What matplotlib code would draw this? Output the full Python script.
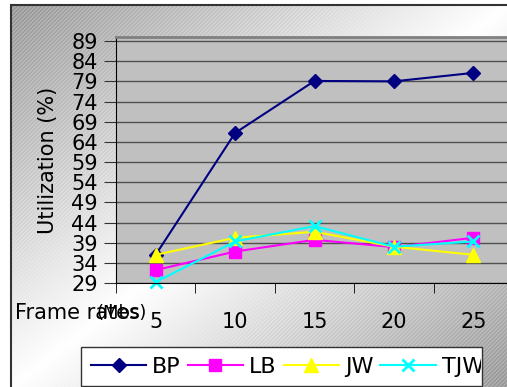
import matplotlib
matplotlib.use("Agg")
import matplotlib.pyplot as plt
import numpy as np
from matplotlib.patches import Rectangle
from matplotlib.transforms import Bbox, TransformedBbox

# data
frame_rates = ["5", "10", "15", "20", "25"]
bp = [36.0, 66.2, 79.1, 79.0, 81.1]
lb = [32.2, 36.8, 39.7, 37.9, 40.2]
jw = [36.0, 40.2, 41.7, 38.0, 36.0]
tjw = [29.2, 39.3, 43.1, 38.0, 39.3]
y_ticks = list(range(29, 90, 5))

W, H = 507, 387
fig = plt.figure(figsize=(W / 100, H / 100), dpi=100)
fig.patch.set_facecolor("white")

# chart-area background: grey striped gradient, white along the middle diagonal
bg = fig.add_axes([11 / W, 0, 1 - 11 / W, 1 - 5 / H])
h, w = H - 5, W - 11
yy, xx = np.mgrid[0:h, 0:w]
u = (xx / w + yy / h) / 2
d = np.clip(np.abs(u - 0.5) * 2, 0, 1)
stripes = ((xx + yy) % 4 < 2).astype(float)
g = np.clip(1 - 0.42 * d + 0.09 * d * stripes, 0, 1)
bg.imshow(np.dstack([g, g, g]), aspect="auto", interpolation="nearest")
bg.axis("off")
fig.add_artist(Rectangle((11 / W, -0.05), 1.2, 1 - 5 / H + 0.05, transform=fig.transFigure,
                         fill=False, ec="#333333", lw=1.5))

# plot area
ax = fig.add_axes([116 / W, 1 - 283 / H, 397 / W, 246 / H])
ax.set_facecolor("#c0c0c0")
x = np.arange(1, len(frame_rates) + 1)
ax.plot(x, bp, color="#000080", marker="D", ms=7, lw=1.5, label="BP", clip_on=False)
ax.plot(x, lb, color="#ff00ff", marker="s", ms=9, lw=1.5, label="LB", clip_on=False)
ax.plot(x, jw, color="#ffff00", marker="^", ms=10, lw=1.5, label="JW", clip_on=False)
ax.plot(x, tjw, color="#00ffff", marker="x", ms=9, mew=2, lw=1.5, label="TJW", clip_on=False)

ax.set_xlim(0.5, 5.5)
ax.set_ylim(29, 90)
ax.set_yticks(y_ticks)
ax.yaxis.grid(True, color="#505050", lw=1)
ax.set_axisbelow(True)
ax.set_xticks(x, frame_rates)
ax.set_xticks(np.arange(0.5, 6, 1), minor=True)
ax.tick_params(axis="x", which="major", length=0, pad=21, labelsize=15)
ax.tick_params(axis="x", which="minor", length=7, direction="out", color="black")
ax.tick_params(axis="y", length=9, pad=4, labelsize=15, color="#333333")

ax.spines["left"].set_color("black")
ax.spines["bottom"].set_color("black")
ax.spines["top"].set_color("#808080")
ax.spines["top"].set_linewidth(2)
ax.spines["right"].set_visible(False)

fig.text(48 / W, 1 - 160 / H, "Utilization (%)", rotation=90, ha="center", va="center", fontsize=15)
fig.text(15 / W, 1 - 313 / H, "Frame rates", ha="left", va="center", fontsize=15)
fig.text(147 / W, 1 - 313 / H, "(Mbs)", ha="right", va="center", fontsize=13)

# legend box, narrower than its content
fig.add_artist(Rectangle((81 / W, 1 - 386 / H), (482 - 81) / W, (386 - 347) / H,
                         transform=fig.transFigure, fc="white", ec="#333333", lw=1, zorder=5))
leg = fig.legend(loc="center left", bbox_to_anchor=(91 / W, 1 - 367 / H), ncol=4, frameon=False,
                 borderpad=0, borderaxespad=0, handlelength=2.48, handletextpad=0.27,
                 columnspacing=0.32, fontsize=16)
leg.set_zorder(6)
clip = TransformedBbox(Bbox([[81 / W, 0], [481 / W, 1]]), fig.transFigure)
for t in leg.get_texts():
    t.set_clip_box(clip)
    t.set_clip_on(True)

fig.savefig("out.png", dpi=100)
